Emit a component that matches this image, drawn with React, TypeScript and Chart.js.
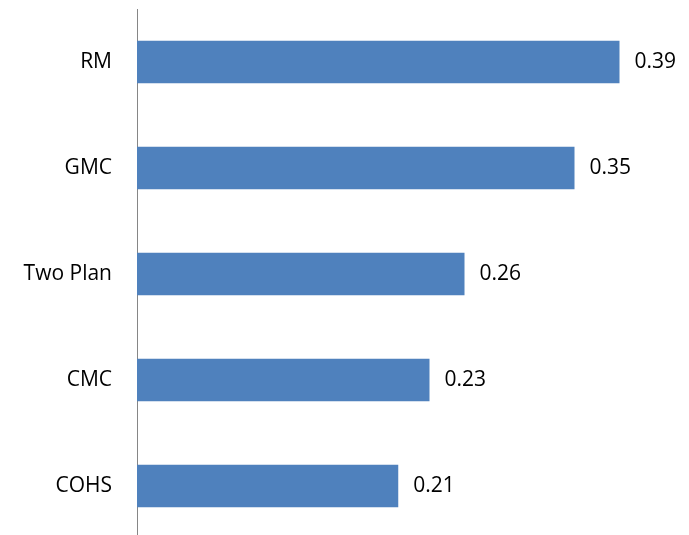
import React, { useEffect, useRef } from "react";
import { Chart, registerables } from "chart.js";

Chart.register(...registerables);

const categories = ["RM", "GMC", "Two Plan", "CMC", "COHS"];
const values = [0.386, 0.35, 0.262, 0.234, 0.209];

const FONT = "'Open Sans', sans-serif";

const valueLabels = {
  id: "valueLabels",
  afterDatasetsDraw(chart: any) {
    const ctx = chart.ctx;
    const meta = chart.getDatasetMeta(0);
    ctx.save();
    ctx.font = `21px ${FONT}`;
    ctx.fillStyle = "#000";
    ctx.textAlign = "left";
    ctx.textBaseline = "middle";
    meta.data.forEach((bar: any, i: number) => {
      ctx.fillText(values[i].toFixed(2), bar.x + 15, bar.y);
    });
    ctx.restore();
  },
};

export default function App() {
  const ref = useRef<HTMLCanvasElement>(null);
  useEffect(() => {
    document.body.style.margin = "0";
    const chart = new Chart(ref.current!, {
      type: "bar",
      data: {
        labels: categories,
        datasets: [
          {
            data: values,
            backgroundColor: "#4F81BD",
            borderWidth: 0,
            categoryPercentage: 1,
            barPercentage: 0.4,
          },
        ],
      },
      options: {
        indexAxis: "y",
        responsive: false,
        animation: false,
        layout: { padding: { top: 9, bottom: 1, right: 2, left: 0 } },
        plugins: { legend: { display: false }, tooltip: { enabled: false } },
        scales: {
          x: { display: false, min: 0, max: 0.44 },
          y: {
            afterFit(scale: any) {
              scale.width = 137;
              scale.paddingTop = 0;
              scale.paddingBottom = 0;
            },
            grid: { display: false, drawTicks: false },
            border: { display: true, color: "#868686", width: 1 },
            ticks: { color: "#000", padding: 25, font: { family: FONT, size: 21 } },
          },
        },
      },
      plugins: [valueLabels],
    });
    return () => chart.destroy();
  }, []);
  return (
    <div style={{ width: 689, height: 535, overflow: "hidden" }}>
      <canvas ref={ref} width={689} height={540} />
    </div>
  );
}
